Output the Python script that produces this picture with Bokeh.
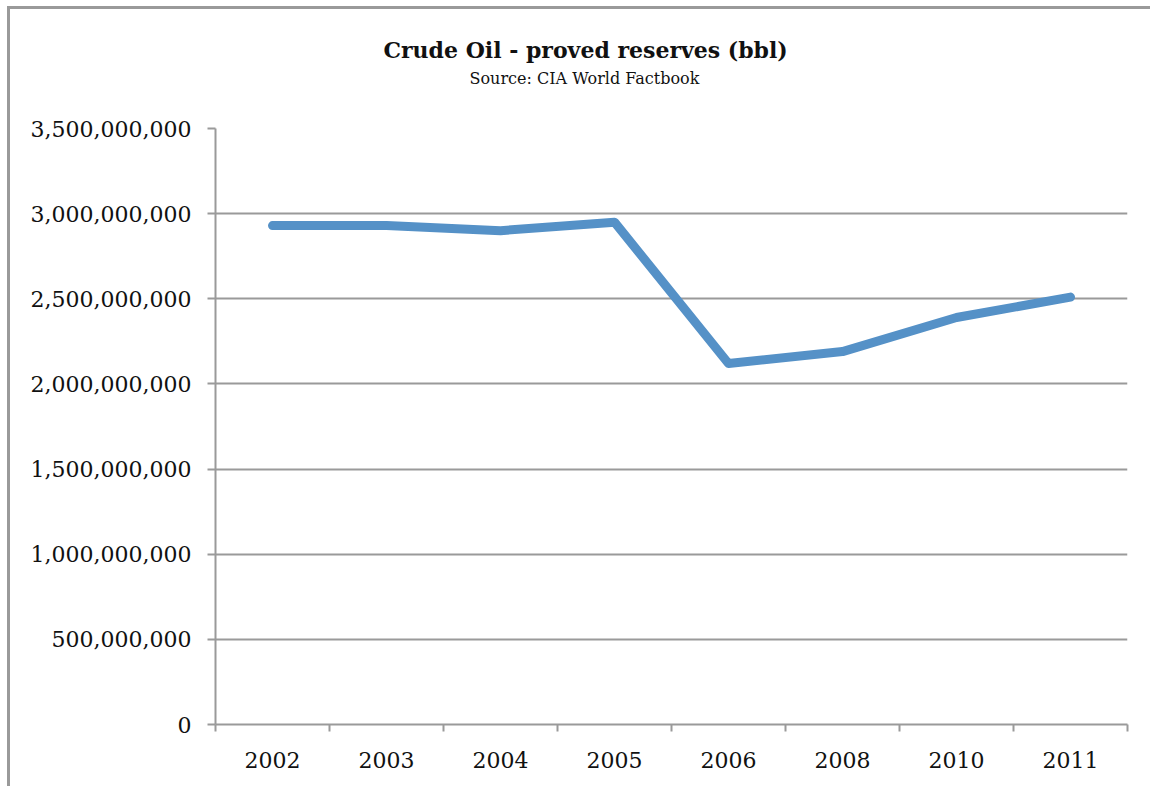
from bokeh.plotting import figure
from bokeh.models import FixedTicker, NumeralTickFormatter, Range1d, Title, ColumnDataSource
from bokeh.embed import file_html
from bokeh.resources import INLINE

years = ["2002", "2003", "2004", "2005", "2006", "2008", "2010", "2011"]
reserves = [2930000000, 2930000000, 2900000000, 2950000000, 2120000000, 2190000000, 2390000000, 2510000000]
y_ticks = [0, 500000000, 1000000000, 1500000000, 2000000000, 2500000000, 3000000000, 3500000000]

title_text = "Crude Oil - proved reserves (bbl)"
subtitle_text = "Source: CIA World Factbook"

GRAY = "#9a9a9a"
FONT = "DejaVu Serif"

xpos = [i + 0.5 for i in range(len(years))]
src = ColumnDataSource(dict(x=xpos, y=reserves))

p = figure(width=1143, height=780, output_backend="svg", toolbar_location=None,
           x_range=Range1d(0, len(years)), y_range=Range1d(0, 3500000000),
           min_border_left=205, min_border_right=26, min_border_top=119, min_border_bottom=65)
p.margin = (6, 0, 0, 7)
p.styles = {"border-left": "3px solid #9a9a9a", "border-top": "3px solid #9a9a9a"}

p.outline_line_color = None
p.background_fill_color = "white"
p.border_fill_color = "white"

p.line("x", "y", source=src, line_color="#5591c7", line_width=9, line_cap="round", line_join="round")

# x axis
xa = p.xaxis[0]
xa.ticker = FixedTicker(ticks=xpos, minor_ticks=list(range(len(years) + 1)))
xa.major_label_overrides = {x: y for x, y in zip(xpos, years)}
xa.major_tick_line_color = None
xa.minor_tick_line_color = GRAY
xa.minor_tick_line_width = 2
xa.minor_tick_out = 7
xa.minor_tick_in = 0
xa.axis_line_color = GRAY
xa.axis_line_width = 2
xa.major_label_text_font = FONT
xa.major_label_text_font_size = "22px"
xa.major_label_text_color = "#111111"
xa.major_label_standoff = 20

# y axis
ya = p.yaxis[0]
ya.ticker = FixedTicker(ticks=y_ticks, minor_ticks=[])
ya.formatter = NumeralTickFormatter(format="0,0")
ya.major_tick_line_color = GRAY
ya.major_tick_line_width = 2
ya.major_tick_out = 8
ya.major_tick_in = 0
ya.minor_tick_line_color = None
ya.axis_line_color = GRAY
ya.axis_line_width = 2
ya.major_label_text_font = FONT
ya.major_label_text_font_size = "22px"
ya.major_label_text_color = "#111111"
ya.major_label_standoff = 16

p.xgrid.grid_line_color = None
p.ygrid.ticker = FixedTicker(ticks=y_ticks)
p.ygrid.grid_line_color = GRAY
p.ygrid.grid_line_width = 2

sub = Title(text=subtitle_text, align="left", offset=254, standoff=82,
            text_font=FONT, text_font_style="normal", text_font_size="16px", text_color="#111111")
main = Title(text=title_text, align="left", offset=168, standoff=-74,
             text_font=FONT, text_font_style="bold", text_font_size="22px", text_color="#111111")
p.add_layout(sub, "above")
p.add_layout(main, "above")

open("out.html", "w").write(file_html(p, INLINE))
